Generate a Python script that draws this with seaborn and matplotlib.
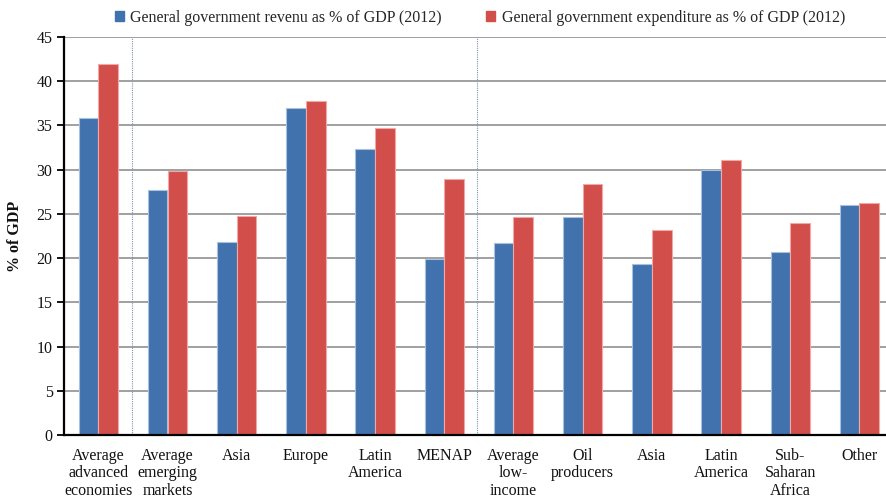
import numpy as np
import pandas as pd
import matplotlib
matplotlib.use("Agg")
import matplotlib.pyplot as plt
import seaborn as sns
from matplotlib.ticker import FixedLocator
from matplotlib.patches import Patch

categories = [
    "Average\nadvanced\neconomies",
    "Average\nemerging\nmarkets",
    "Asia",
    "Europe",
    "Latin\nAmerica",
    "MENAP",
    "Average\nlow-\nincome",
    "Oil\nproducers",
    "Asia",
    "Latin\nAmerica",
    "Sub-\nSaharan\nAfrica",
    "Other",
]
revenue = [35.8, 27.7, 21.8, 37.0, 32.3, 19.9, 21.7, 24.6, 19.3, 30.0, 20.7, 26.0]
expenditure = [42.0, 29.8, 24.8, 37.8, 34.7, 29.0, 24.6, 28.4, 23.2, 31.1, 24.0, 26.2]
series_names = [
    "General government revenu as % of GDP (2012)",
    "General government expenditure as % of GDP (2012)",
]
yticks = [0, 5, 10, 15, 20, 25, 30, 35, 40, 45]

colors = ["#4172AD", "#D24E4B"]
edges = ["#A9C1DE", "#EFA9A7"]

sns.set_theme(style="white")
plt.rcParams["font.family"] = ["Liberation Serif", "DejaVu Serif"]

pos = list(range(len(categories)))
df = pd.DataFrame({
    "pos": pos * 2,
    "value": revenue + expenditure,
    "series": [series_names[0]] * len(pos) + [series_names[1]] * len(pos),
})

fig = plt.figure(figsize=(8.86, 4.98), dpi=100)
ax = fig.add_axes([63.7 / 886, 63 / 498, 830.4 / 886, 398 / 498])

ax.yaxis.grid(True, color="#999999", linewidth=1.3, zorder=0)
ax.set_axisbelow(True)

sns.barplot(data=df, x="pos", y="value", hue="series", order=pos,
            hue_order=series_names, palette=colors, width=0.57,
            saturation=1, legend=False, ax=ax, zorder=2)
for container, ec in zip(ax.containers, edges):
    for bar in container:
        bar.set_edgecolor(ec)
        bar.set_linewidth(0.8)

ax.set_xlim(-0.5, len(categories) - 0.5)
ax.set_ylim(0, 45)
ax.set_yticks(yticks)
ax.set_yticklabels([str(t) for t in yticks], fontsize=11.5, color="#111111")
ax.set_xticks(pos)
ax.set_xticklabels(categories, fontsize=11.5, linespacing=1.16, color="#111111")
ax.xaxis.set_minor_locator(FixedLocator(np.arange(-0.5, len(categories), 1.0)))
ax.tick_params(axis="x", which="major", length=0, pad=9)
ax.tick_params(axis="x", which="minor", length=5, width=1.5, color="black", direction="out")
ax.tick_params(axis="y", length=5, width=1.3, color="black", direction="out", pad=3, left=True)
ax.set_xlabel("")
ax.set_ylabel("% of GDP", fontsize=11.5, fontweight="bold", labelpad=10, color="#111111")

for side in ("top", "right"):
    ax.spines[side].set_visible(False)
for side in ("left", "bottom"):
    ax.spines[side].set_color("black")
    ax.spines[side].set_linewidth(1.6)

# dotted group separators
for xsep in (0.485, 5.47):
    ax.axvline(xsep, ymin=0.0, ymax=1.0, color="#7E92B3", linestyle=(0, (1, 1)),
               linewidth=0.8, zorder=1)

handles = [Patch(facecolor=c, edgecolor=c) for c in colors]
fig.legend(handles, series_names, loc="center", bbox_to_anchor=(480 / 886, 1 - 18 / 498),
           ncol=2, frameon=False, fontsize=11.5, handlelength=0.56, handleheight=0.56,
           handletextpad=0.4, columnspacing=2.8)

fig.savefig("out.png", dpi=100)
